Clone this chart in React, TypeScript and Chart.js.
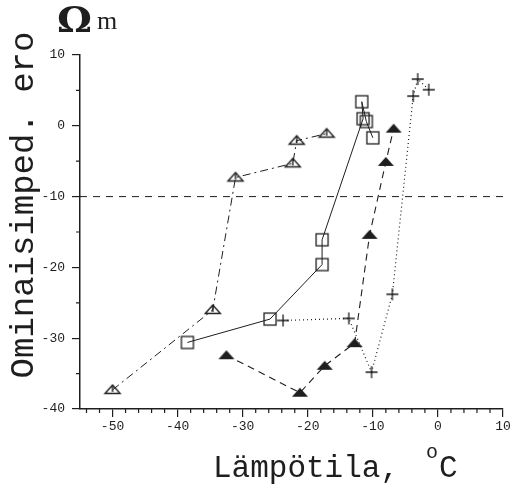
import React, { useEffect, useRef } from 'react';
import { Chart, registerables } from 'chart.js';

Chart.register(...registerables);

// Open triangles (dash-dot line)
const openTriX = [-50, -34.6, -31.1, -22.3, -21.7, -17.1];
const openTriY = [-37.3, -26.0, -7.3, -5.3, -2.1, -1.1];
// Open squares (solid line)
const squareX = [-38.5, -25.8, -17.8, -17.8, -11.5, -11.7, -11.0, -10.0];
const squareY = [-30.6, -27.3, -19.6, -16.1, 1.0, 3.4, 0.6, -1.7];
// Filled triangles (dashed line)
const filledTriX = [-32.5, -21.2, -17.4, -12.8, -10.5, -8.0, -6.8];
const filledTriY = [-32.4, -37.7, -33.9, -30.7, -15.4, -5.1, -0.4];
// Plus markers (dotted line)
const plusX = [-23.8, -13.7, -10.2, -7.0, -3.8, -3.1, -1.4];
const plusY = [-27.5, -27.2, -34.8, -23.8, 4.2, 6.6, 5.1];
// Reference line at -10
const refLineX = [-55, 10];
const refLineY = [-10, -10];

const xTicks = [-50, -40, -30, -20, -10, 0, 10];
const yTicks = [-40, -30, -20, -10, 0, 10];
const xMinorTicks = [-54, -52, -48, -46, -44, -42, -38, -36, -34, -32, -28, -26, -24, -22, -18, -16, -14, -12, -8, -6, -4, -2, 2, 4, 6, 8];
const yMinorTicks = [-35, -25, -15, -5, 5];

const xTitle = 'Lämpötila,';
const xTitleSup = 'o';
const xTitleUnit = 'C';
const yTitle = 'Ominaisimped. ero';
const unitOmega = 'Ω';
const unitM = 'm';

const INK = '#1e1e1e';

function pts(xs: number[], ys: number[]) {
  return xs.map((x, i) => ({ x, y: ys[i] }));
}

function makeMarker(kind: string): HTMLCanvasElement {
  const c = document.createElement('canvas');
  const w = 20, h = 18;
  c.width = w; c.height = h;
  const ctx = c.getContext('2d')!;
  ctx.strokeStyle = INK;
  ctx.fillStyle = INK;
  ctx.lineWidth = 1.4;
  const cx = w / 2, cy = h / 2;
  if (kind === 'openTri') {
    ctx.beginPath();
    ctx.moveTo(cx - 7.5, cy + 3.5);
    ctx.lineTo(cx, cy - 5);
    ctx.lineTo(cx + 7.5, cy + 3.5);
    ctx.closePath();
    ctx.stroke();
    ctx.beginPath();
    ctx.moveTo(cx, cy - 5);
    ctx.lineTo(cx, cy + 2);
    ctx.stroke();
  } else if (kind === 'filledTri') {
    ctx.beginPath();
    ctx.moveTo(cx - 8, cy + 4);
    ctx.lineTo(cx, cy - 5);
    ctx.lineTo(cx + 8, cy + 4);
    ctx.closePath();
    ctx.fill();
  } else if (kind === 'square') {
    ctx.lineWidth = 1.3;
    ctx.strokeRect(cx - 6, cy - 6, 12, 12);
  } else if (kind === 'plus') {
    ctx.lineWidth = 1.3;
    ctx.beginPath();
    ctx.moveTo(cx - 6, cy);
    ctx.lineTo(cx + 6, cy);
    ctx.moveTo(cx, cy - 6);
    ctx.lineTo(cx, cy + 6);
    ctx.stroke();
  }
  return c;
}

const decorPlugin = {
  id: 'decor',
  afterDraw(chart: any) {
    const { ctx } = chart;
    const x = chart.scales.x;
    const y = chart.scales.y;
    ctx.save();
    ctx.strokeStyle = INK;
    ctx.lineWidth = 1.2;
    ctx.beginPath();
    xMinorTicks.forEach((v) => {
      const px = x.getPixelForValue(v);
      ctx.moveTo(px, y.bottom);
      ctx.lineTo(px, y.bottom + 4);
    });
    yMinorTicks.forEach((v) => {
      const py = y.getPixelForValue(v);
      ctx.moveTo(x.left - 4, py);
      ctx.lineTo(x.left, py);
    });
    ctx.stroke();

    ctx.fillStyle = INK;
    // Y title
    ctx.save();
    ctx.font = '34px "Liberation Mono"';
    ctx.textAlign = 'center';
    ctx.textBaseline = 'middle';
    ctx.translate(24, 205);
    ctx.rotate(-Math.PI / 2);
    ctx.fillText(yTitle, 0, 0);
    ctx.restore();

    // X title
    ctx.font = '31px "Liberation Mono"';
    ctx.textAlign = 'left';
    ctx.textBaseline = 'alphabetic';
    ctx.fillText(xTitle, 213, 477);
    ctx.font = '20px "Liberation Mono"';
    ctx.fillText(xTitleSup, 426, 458);
    ctx.font = '31px "Liberation Mono"';
    ctx.fillText(xTitleUnit, 439, 477);

    // Unit Ω m
    ctx.save();
    ctx.font = 'bold 36px "DejaVu Serif"';
    const wOm = ctx.measureText(unitOmega).width;
    ctx.translate(57, 32);
    ctx.scale(35 / wOm, 1);
    ctx.fillText(unitOmega, 0, 0);
    ctx.restore();
    ctx.font = '26px "Liberation Serif"';
    ctx.fillText(unitM, 97, 29);
    ctx.restore();
  },
};

export default function App() {
  const ref = useRef<HTMLCanvasElement | null>(null);

  useEffect(() => {
    if (!ref.current) return;
    const markerOpenTri = makeMarker('openTri');
    const markerFilledTri = makeMarker('filledTri');
    const markerSquare = makeMarker('square');
    const markerPlus = makeMarker('plus');

    const tickFont = { family: '"Liberation Mono"', size: 13 };

    const chart = new Chart(ref.current, {
      type: 'scatter',
      data: {
        datasets: [
          {
            label: 'ref',
            data: pts(refLineX, refLineY),
            showLine: true,
            borderColor: INK,
            borderWidth: 1,
            borderDash: [7, 6],
            pointRadius: 0,
          },
          {
            label: 'open triangles',
            data: pts(openTriX, openTriY),
            showLine: true,
            borderColor: INK,
            borderWidth: 1,
            borderDash: [8, 4, 2, 4],
            pointStyle: markerOpenTri,
            pointRadius: 7,
          },
          {
            label: 'squares',
            data: pts(squareX, squareY),
            showLine: true,
            borderColor: INK,
            borderWidth: 1,
            pointStyle: markerSquare,
            pointRadius: 7,
          },
          {
            label: 'filled triangles',
            data: pts(filledTriX, filledTriY),
            showLine: true,
            borderColor: INK,
            borderWidth: 1.1,
            borderDash: [7, 5],
            pointStyle: markerFilledTri,
            pointRadius: 7,
          },
          {
            label: 'plus',
            data: pts(plusX, plusY),
            showLine: true,
            borderColor: INK,
            borderWidth: 1.2,
            borderDash: [1, 3],
            pointStyle: markerPlus,
            pointRadius: 7,
          },
        ],
      } as any,
      options: {
        animation: false,
        responsive: false,
        maintainAspectRatio: false,
        layout: { padding: { left: 0, top: 55, right: 10, bottom: 0 } },
        plugins: { legend: { display: false }, tooltip: { enabled: false } },
        scales: {
          x: {
            type: 'linear',
            min: -55,
            max: 10,
            afterBuildTicks: (s: any) => {
              s.ticks = xTicks.map((v) => ({ value: v }));
            },
            afterFit: (s: any) => {
              s.height = 77;
            },
            grid: { display: true, drawOnChartArea: false, drawTicks: true, tickLength: 8, color: INK, lineWidth: 1.2 },
            border: { display: true, color: INK, width: 1.5 },
            ticks: { font: tickFont, color: INK, padding: 2, maxRotation: 0, autoSkip: false },
          },
          y: {
            type: 'linear',
            min: -40,
            max: 10,
            afterBuildTicks: (s: any) => {
              s.ticks = yTicks.map((v) => ({ value: v }));
            },
            afterFit: (s: any) => {
              s.width = 80;
            },
            grid: { display: true, drawOnChartArea: false, drawTicks: true, tickLength: 8, color: INK, lineWidth: 1.2 },
            border: { display: true, color: INK, width: 1.5 },
            ticks: { font: tickFont, color: INK, padding: 7, autoSkip: false },
          },
        },
      } as any,
      plugins: [decorPlugin],
    });
    return () => chart.destroy();
  }, []);

  return (
    <div style={{ position: 'fixed', left: 0, top: 0, width: 513, height: 486, background: '#fff' }}>
      <canvas ref={ref} width={513} height={486} style={{ width: 513, height: 486, display: 'block' }} />
    </div>
  );
}
